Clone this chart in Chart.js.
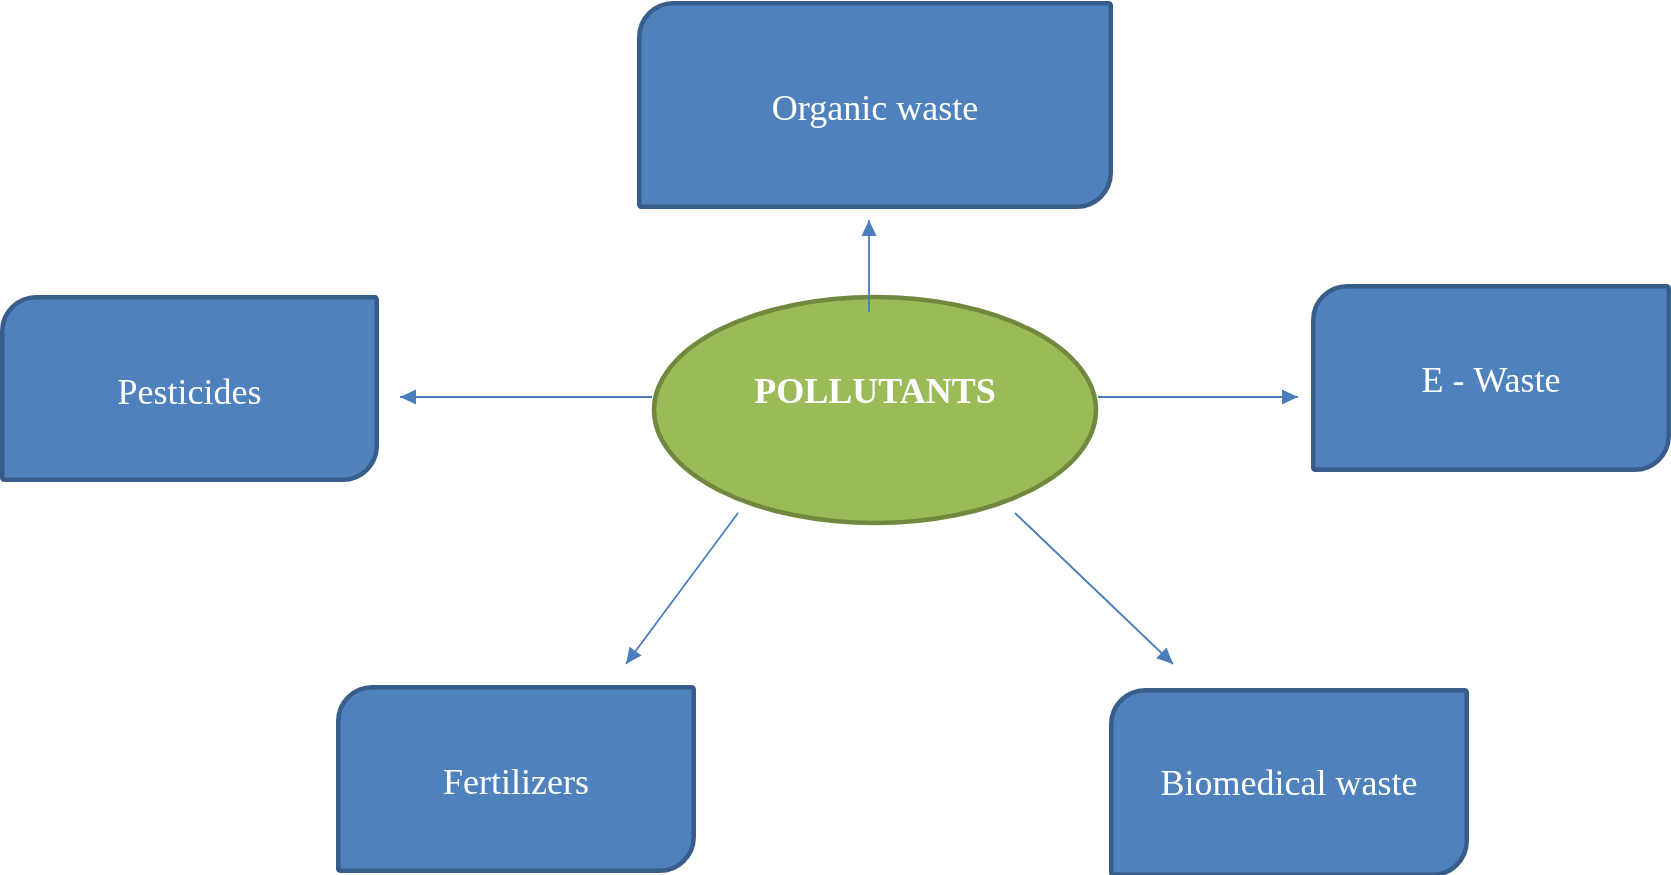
<!DOCTYPE html>
<html>
<head>
<meta charset="utf-8">
<script src="https://cdn.jsdelivr.net/npm/chart.js@4.4.1/dist/chart.umd.min.js"></script>
<style>
body{margin:0;background:#fff;overflow:hidden}
#diagram{display:block}
</style>
</head>
<body>
<canvas id="diagram" width="1671" height="875"></canvas>
<script>
// boxes (in chart units, same as the page picture)
const boxLabels=['Organic waste','Pesticides','E - Waste','Fertilizers','Biomedical waste'];
const boxLeft=[637,0,1311,336,1109];
const boxRight=[1113,379,1671,696,1469];
const boxTop=[1,295,284,685,688];
const boxBottom=[209,482,472,873,877];
const boxTextY=[111,395,383,785,786];

// centre ellipse
const hubLabel='POLLUTANTS';
const hubX=875, hubY=410, hubRx=221, hubRy=113;
const hubTextY=394;

// arrows: start point -> tip
const arrowFromX=[869,652,1098,738,1015];
const arrowFromY=[312,397,397,513,513];
const arrowToX=[869,400,1298,626,1173];
const arrowToY=[220,397,397,664,664];

const boxFill='#4f81bd', boxLine='#385d8a';
const hubFill='#9bbb59', hubLine='#71893f';
const arrowColor='#4a7ebb';

var arrowSets=[];
for (let i=0;i<arrowFromX.length;i++) {
    arrowSets.push({
        type:'line',
        data:[{x:arrowFromX[i],y:arrowFromY[i]},{x:arrowToX[i],y:arrowToY[i]}],
        borderColor:arrowColor,
        borderWidth:1.8,
        pointRadius:0,
        fill:false
    })
}

const shapes={
    id:'shapes',
    beforeDatasetsDraw(chart){
        const ctx=chart.ctx;
        const sx=chart.scales.x, sy=chart.scales.y;
        ctx.save();
        // boxes
        for (let i=0;i<boxLabels.length;i++) {
            const lw=4.5;
            const x1=sx.getPixelForValue(boxLeft[i])+lw/2;
            const x2=sx.getPixelForValue(boxRight[i])-lw/2;
            const y1=sy.getPixelForValue(boxTop[i])+lw/2;
            const y2=sy.getPixelForValue(boxBottom[i])-lw/2;
            ctx.beginPath();
            ctx.roundRect(x1,y1,x2-x1,y2-y1,[34,2,34,2]);
            ctx.fillStyle=boxFill;
            ctx.fill();
            ctx.lineWidth=lw;
            ctx.strokeStyle=boxLine;
            ctx.stroke();
        }
        // ellipse
        const cx=sx.getPixelForValue(hubX), cy=sy.getPixelForValue(hubY);
        const rx=Math.abs(sx.getPixelForValue(hubX+hubRx)-cx);
        const ry=Math.abs(sy.getPixelForValue(hubY+hubRy)-cy);
        ctx.beginPath();
        ctx.ellipse(cx,cy,rx,ry,0,0,Math.PI*2);
        ctx.fillStyle=hubFill;
        ctx.fill();
        ctx.lineWidth=4.5;
        ctx.strokeStyle=hubLine;
        ctx.stroke();
        ctx.restore();
    },
    afterDatasetsDraw(chart){
        const ctx=chart.ctx;
        const sx=chart.scales.x, sy=chart.scales.y;
        ctx.save();
        // arrow heads, from the line points the library placed
        chart.data.datasets.forEach((ds,k)=>{
            const pts=chart.getDatasetMeta(k).data;
            const a=pts[0], b=pts[pts.length-1];
            const ang=Math.atan2(b.y-a.y,b.x-a.x);
            const len=16, half=7.5;
            ctx.beginPath();
            ctx.moveTo(b.x,b.y);
            ctx.lineTo(b.x-len*Math.cos(ang)+half*Math.sin(ang),b.y-len*Math.sin(ang)-half*Math.cos(ang));
            ctx.lineTo(b.x-len*Math.cos(ang)-half*Math.sin(ang),b.y-len*Math.sin(ang)+half*Math.cos(ang));
            ctx.closePath();
            ctx.fillStyle=arrowColor;
            ctx.fill();
        })
        // texts
        ctx.fillStyle='#ffffff';
        ctx.textAlign='center';
        ctx.textBaseline='middle';
        ctx.font='36px "Liberation Serif", "Times New Roman", serif';
        for (let i=0;i<boxLabels.length;i++) {
            const x=sx.getPixelForValue((boxLeft[i]+boxRight[i])/2);
            ctx.fillText(boxLabels[i],x,sy.getPixelForValue(boxTextY[i]));
        }
        ctx.font='bold 36px "Liberation Serif", "Times New Roman", serif';
        ctx.fillText(hubLabel,sx.getPixelForValue(hubX),sy.getPixelForValue(hubTextY));
        ctx.restore();
    }
}

const chart=new Chart(document.getElementById('diagram'),{
    type:'line',
    data:{datasets:arrowSets},
    options:{
        responsive:false,
        animation:false,
        devicePixelRatio:1,
        layout:{padding:0},
        scales:{
            x:{type:'linear',min:0,max:1671,display:false},
            y:{type:'linear',min:0,max:875,reverse:true,display:false}
        },
        plugins:{legend:{display:false},tooltip:{enabled:false}}
    },
    plugins:[shapes]
});
</script>
</body>
</html>
